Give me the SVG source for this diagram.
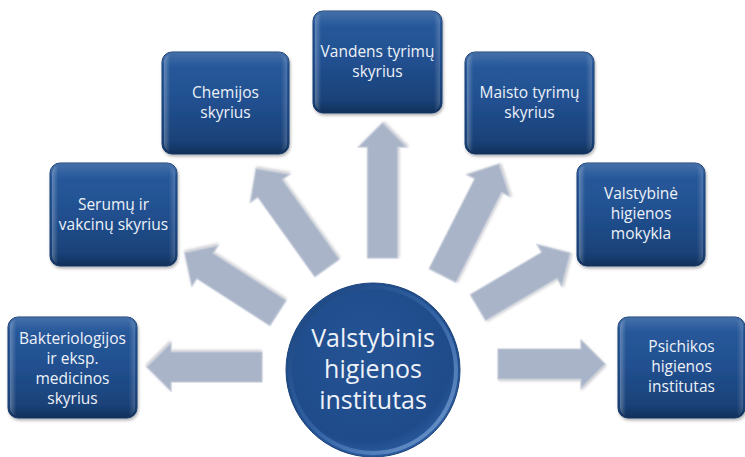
<svg xmlns="http://www.w3.org/2000/svg" width="745" height="457" viewBox="0 0 745 457">
<style>
  .box { fill: url(#boxGrad); stroke: #1a3f73; stroke-width: 1; filter: url(#shadow); }
  .bevel { fill: url(#bevelGrad); }
  .gloss { fill: url(#glossGrad); }
  .lbl { font-family: "Open Sans", "Liberation Sans", sans-serif; font-size: 15.5px; fill: #eef2f8; text-anchor: middle; }
  .big { font-family: "Open Sans", "Liberation Sans", sans-serif; font-size: 25px; fill: #eef2f8; text-anchor: middle; }
  .arrow { fill: #a9b4c8; stroke: #c4cbd9; stroke-width: 1.2; stroke-linejoin: miter; filter: url(#ashadow); }
</style>
<defs>
  <linearGradient id="boxGrad" x1="0" y1="0" x2="0" y2="1">
    <stop offset="0" stop-color="#2a5c9e"/>
    <stop offset="0.5" stop-color="#214f8f"/>
    <stop offset="1" stop-color="#173d70"/>
  </linearGradient>
  <linearGradient id="bevelGrad" x1="0" y1="0" x2="1" y2="0">
    <stop offset="0" stop-color="#ffffff" stop-opacity="0.28"/>
    <stop offset="0.05" stop-color="#ffffff" stop-opacity="0"/>
    <stop offset="0.95" stop-color="#ffffff" stop-opacity="0"/>
    <stop offset="1" stop-color="#ffffff" stop-opacity="0.18"/>
  </linearGradient>
  <linearGradient id="glossGrad" x1="0" y1="0" x2="0" y2="1">
    <stop offset="0" stop-color="#ffffff" stop-opacity="0.12"/>
    <stop offset="0.15" stop-color="#ffffff" stop-opacity="0"/>
    <stop offset="0.88" stop-color="#000000" stop-opacity="0"/>
    <stop offset="1" stop-color="#000000" stop-opacity="0.2"/>
  </linearGradient>
  <radialGradient id="circGrad" cx="0.45" cy="0.4" r="0.6">
    <stop offset="0" stop-color="#245394"/>
    <stop offset="0.85" stop-color="#1f4b8a"/>
    <stop offset="1" stop-color="#2b5c9f"/>
  </radialGradient>
  <linearGradient id="rimGrad" x1="0" y1="0" x2="1" y2="1">
    <stop offset="0" stop-color="#183f75"/>
    <stop offset="0.5" stop-color="#3465a8"/>
    <stop offset="1" stop-color="#7fa5d6"/>
  </linearGradient>
  <filter id="shadow" x="-10%" y="-10%" width="125%" height="130%">
    <feDropShadow dx="1" dy="2" stdDeviation="1.5" flood-color="#000" flood-opacity="0.3"/>
  </filter>
  <filter id="ashadow" x="-10%" y="-10%" width="125%" height="130%">
    <feDropShadow dx="1" dy="1.5" stdDeviation="1.2" flood-color="#556" flood-opacity="0.3"/>
  </filter>
</defs>
<rect width="745" height="457" fill="#ffffff"/>

<g id="connectors">
  <polygon class="arrow" transform="translate(262,367) rotate(180)" points="0,-15 91,-15 91,-24 115,0 91,24 91,15 0,15"/>
  <polygon class="arrow" transform="translate(278,313) rotate(-147.2)" points="0,-15 87,-15 87,-24 111,0 87,24 87,15 0,15"/>
  <polygon class="arrow" transform="translate(327,268) rotate(-125.6)" points="0,-15 98,-15 98,-24 122,0 98,24 98,15 0,15"/>
  <polygon class="arrow" transform="translate(382.5,258) rotate(-90)" points="0,-15 111,-15 111,-24 135,0 111,24 111,15 0,15"/>
  <polygon class="arrow" transform="translate(442.5,275.5) rotate(-63.1)" points="0,-15 101,-15 101,-24 125,0 101,24 101,15 0,15"/>
  <polygon class="arrow" transform="translate(478,307.5) rotate(-30.6)" points="0,-15 83,-15 83,-24 107,0 83,24 83,15 0,15"/>
  <polygon class="arrow" transform="translate(498,364) rotate(0)" points="0,-15 83,-15 83,-24 107,0 83,24 83,15 0,15"/>
</g>

<g id="center">
  <circle cx="373" cy="370" r="87" fill="url(#circGrad)" stroke="#1a4279" stroke-width="1"/>
  <circle cx="373" cy="370" r="83" fill="none" stroke="url(#rimGrad)" stroke-width="4" opacity="0.85"/>
  <text class="big" x="373" y="347">Valstybinis</text>
  <text class="big" x="373" y="378">higienos</text>
  <text class="big" x="373" y="409">institutas</text>
</g>

<g id="bakteriologijos">
  <rect class="box" x="8" y="317" width="129" height="101" rx="10"/>
  <rect class="bevel" x="10" y="319" width="125" height="97" rx="8"/>
  <rect class="gloss" x="8" y="317" width="129" height="101" rx="10"/>
  <text class="lbl" x="72.5" y="343.5">Bakteriologijos</text>
  <text class="lbl" x="72.5" y="363.5">ir eksp.</text>
  <text class="lbl" x="72.5" y="383.5">medicinos</text>
  <text class="lbl" x="72.5" y="403.5">skyrius</text>
</g>

<g id="serumu">
  <rect class="box" x="50" y="163" width="127" height="103" rx="10"/>
  <rect class="bevel" x="52" y="165" width="123" height="99" rx="8"/>
  <rect class="gloss" x="50" y="163" width="127" height="103" rx="10"/>
  <text class="lbl" x="113.5" y="210">Serumų ir</text>
  <text class="lbl" x="113.5" y="230">vakcinų skyrius</text>
</g>

<g id="chemijos">
  <rect class="box" x="162" y="52" width="127" height="102" rx="10"/>
  <rect class="bevel" x="164" y="54" width="123" height="98" rx="8"/>
  <rect class="gloss" x="162" y="52" width="127" height="102" rx="10"/>
  <text class="lbl" x="225.5" y="97.5">Chemijos</text>
  <text class="lbl" x="225.5" y="117.5">skyrius</text>
</g>

<g id="vandens">
  <rect class="box" x="313" y="11" width="129" height="102" rx="10"/>
  <rect class="bevel" x="315" y="13" width="125" height="98" rx="8"/>
  <rect class="gloss" x="313" y="11" width="129" height="102" rx="10"/>
  <text class="lbl" x="377.5" y="57">Vandens tyrimų</text>
  <text class="lbl" x="377.5" y="77">skyrius</text>
</g>

<g id="maisto">
  <rect class="box" x="465" y="52" width="129" height="102" rx="10"/>
  <rect class="bevel" x="467" y="54" width="125" height="98" rx="8"/>
  <rect class="gloss" x="465" y="52" width="129" height="102" rx="10"/>
  <text class="lbl" x="529.5" y="97.5">Maisto tyrimų</text>
  <text class="lbl" x="529.5" y="117.5">skyrius</text>
</g>

<g id="valstybine">
  <rect class="box" x="577" y="163" width="128" height="103" rx="10"/>
  <rect class="bevel" x="579" y="165" width="124" height="99" rx="8"/>
  <rect class="gloss" x="577" y="163" width="128" height="103" rx="10"/>
  <text class="lbl" x="641" y="198.5">Valstybinė</text>
  <text class="lbl" x="641" y="218.5">higienos</text>
  <text class="lbl" x="641" y="238.5">mokykla</text>
</g>

<g id="psichikos">
  <rect class="box" x="618" y="317" width="127" height="101" rx="10"/>
  <rect class="bevel" x="620" y="319" width="123" height="97" rx="8"/>
  <rect class="gloss" x="618" y="317" width="127" height="101" rx="10"/>
  <text class="lbl" x="681.5" y="351.5">Psichikos</text>
  <text class="lbl" x="681.5" y="371.5">higienos</text>
  <text class="lbl" x="681.5" y="391.5">institutas</text>
</g>
</svg>
